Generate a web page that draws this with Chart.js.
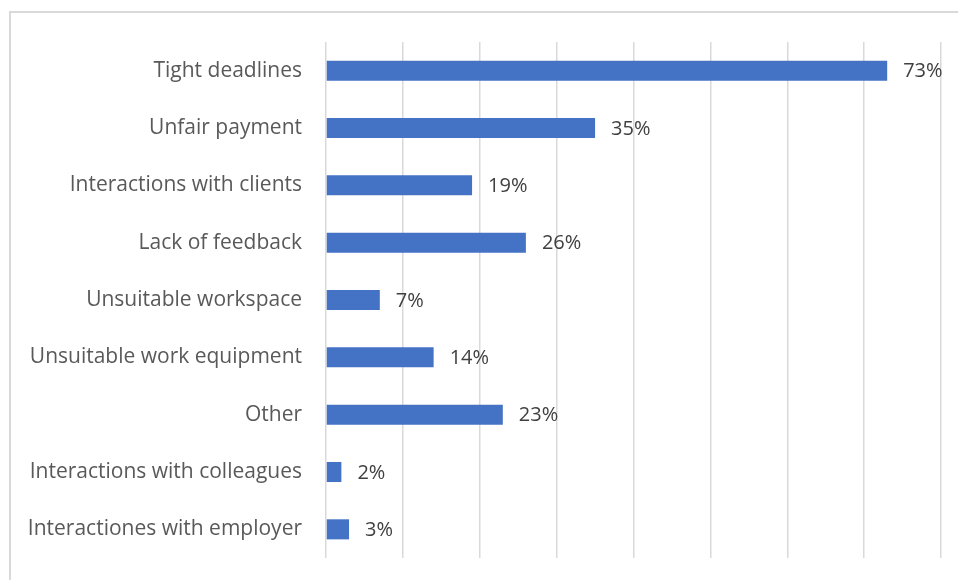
<!DOCTYPE html>
<html>
<head>
<meta charset="utf-8">
<script src="https://cdn.jsdelivr.net/npm/chart.js@4"></script>
<style>
  html, body { margin: 0; padding: 0; background: #fff; overflow: hidden; }
  #wrap { position: relative; width: 958px; height: 580px; }
  #frame { position: absolute; left: 9px; top: 11px; width: 1000px; height: 700px; border: 2px solid #d9d9d9; box-sizing: border-box; }
  canvas { position: absolute; left: 0; top: 0; }
</style>
</head>
<body>
<div id="wrap">
  <div id="frame"></div>
  <canvas id="chart" width="958" height="580"></canvas>
</div>
<script>
// categories top to bottom, share of respondents in %
const categorias = [
  'Tight deadlines',
  'Unfair payment',
  'Interactions with clients',
  'Lack of feedback',
  'Unsuitable workspace',
  'Unsuitable work equipment',
  'Other',
  'Interactions with colleagues',
  'Interactiones with employer'
];
const valores = [73, 35, 19, 26, 7, 14, 23, 2, 3];
const escalaMax = 80;
const escalaPasso = 10;

const FONTE = '"Open Sans", sans-serif';

// rótulos de valor ao lado de cada barra
const rotulosPlugin = {
  id: 'rotulos',
  afterDatasetsDraw(chart) {
    const { ctx } = chart;
    const meta = chart.getDatasetMeta(0);
    ctx.save();
    ctx.font = '20px ' + FONTE;
    ctx.fillStyle = '#404040';
    ctx.textAlign = 'left';
    ctx.textBaseline = 'middle';
    meta.data.forEach((bar, i) => {
      ctx.fillText(valores[i] + '%', bar.x + 16, bar.y + 1);
    });
    ctx.restore();
  }
};

new Chart(document.getElementById('chart').getContext('2d'), {
  type: 'bar',
  data: {
    labels: categorias,
    datasets: [{
      data: valores,
      backgroundColor: '#4472c4',
      borderWidth: 0,
      categoryPercentage: 1,
      barPercentage: 0.35
    }]
  },
  options: {
    indexAxis: 'y',
    responsive: false,
    animation: false,
    layout: { padding: { top: 42, bottom: 22, right: 17, left: 0 } },
    plugins: { legend: { display: false }, tooltip: { enabled: false } },
    scales: {
      x: {
        min: 0,
        max: escalaMax,
        ticks: { display: false, stepSize: escalaPasso },
        grid: { color: '#d9d9d9', lineWidth: 1.5, drawTicks: false },
        border: { display: false },
        afterFit: s => { s.height = 0; s.paddingLeft = 0; s.paddingRight = 0; }
      },
      y: {
        grid: { display: false },
        border: { display: false },
        ticks: { color: '#595959', font: { family: FONTE, size: 21 }, padding: 16 },
        afterFit: s => { s.width = 326; s.paddingTop = 0; s.paddingBottom = 0; }
      }
    }
  },
  plugins: [rotulosPlugin]
});
</script>
</body>
</html>
